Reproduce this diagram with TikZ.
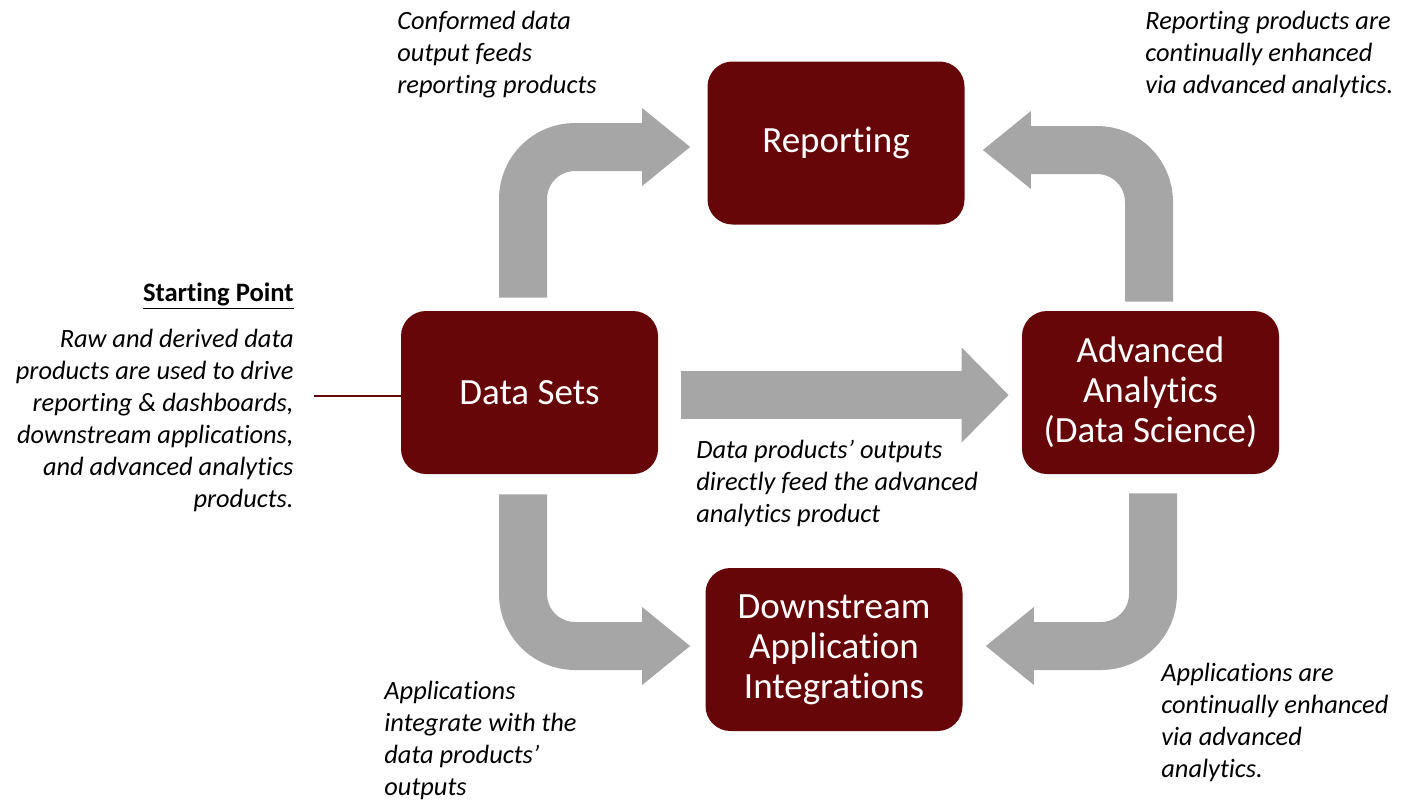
\documentclass[tikz,border=0pt]{standalone}
\usepackage{fontspec}
\setmainfont{Carlito}[Ligatures=NoCommon]
\usetikzlibrary{arrows.meta,calc}
\definecolor{boxred}{RGB}{102,6,8}
\definecolor{arrowgray}{RGB}{166,166,166}

\begin{document}
\begin{tikzpicture}[x=0.5pt,y=-0.5pt,
    box/.style={rectangle, rounded corners=12.5pt, fill=boxred, text=white,
      align=center, minimum width=128.5pt, minimum height=81.5pt,
      font=\fontsize{18.5}{20}\selectfont},
    note/.style={inner sep=0pt, font=\fontsize{13.2}{16}\selectfont\itshape},
    bentarrow/.style={draw=arrowgray, line width=24pt, rounded corners=26pt,
      -{Triangle[length=24pt,width=39pt,line width=0pt]}},
    flatarrow/.style={draw=arrowgray, line width=24pt,
      -{Triangle[length=23.5pt,width=47.5pt,line width=0pt]}}]

  \useasboundingbox (0,0) rectangle (1417,800);

  % Define the four boxes
  \node[box] (rep) at (836,143) {Reporting};
  \node[box] (ds) at (529.5,392.5) {Data Sets};
  \node[box] (aa) at (1150.5,392.5) {Advanced\\Analytics\\(Data Science)};
  \node[box] (dn) at (834,649.5) {Downstream\\Application\\Integrations};

  % Bent arrows round the loop
  \draw[bentarrow] ([xshift=-3.25pt,yshift=6.5pt]ds.north) |- ([xshift=-8.5pt,yshift=-2pt]rep.west);
  \draw[bentarrow] ([xshift=-0.75pt,yshift=4.5pt]aa.north) |- ([xshift=9pt,yshift=-3.5pt]rep.east);
  \draw[bentarrow] ([xshift=-3.25pt,yshift=-10pt]ds.south) |- ([xshift=-7.5pt,yshift=1.75pt]dn.west);
  \draw[bentarrow] ([xshift=1.25pt,yshift=-9.5pt]aa.south) |- ([xshift=11.5pt,yshift=1.75pt]dn.east);

  % Straight arrow across the middle
  \draw[flatarrow] ([xshift=11.5pt,yshift=-1.25pt]ds.east) -- ([xshift=-6.5pt,yshift=-1.25pt]aa.west);

  % Notes beside the arrows
  \node[note, anchor=north west, align=left] (conf) at (397,11)
    {Conformed data\\output feeds\\reporting products};
  \node[note, anchor=north west, align=left] (enh) at (1145,11)
    {Reporting products are\\continually enhanced\\via advanced analytics.};
  \node[note, anchor=north west, align=left] (feed) at (696,440)
    {Data products’ outputs\\directly feed the advanced\\analytics product};
  \node[note, anchor=north west, align=left] (integ) at (384,681)
    {Applications\\integrate with the\\data products’\\outputs};
  \node[note, anchor=north west, align=left] (apps) at (1161,663)
    {Applications are\\continually enhanced\\via advanced\\analytics.};

  % Starting point
  \node[note, font=\fontsize{13.3}{16}\selectfont\bfseries, anchor=north east] (sp) at (294,282)
    {\underline{Starting Point}};
  \node[note, anchor=north east, align=right] (raw) at (294,329)
    {Raw and derived data\\products are used to drive\\reporting \& dashboards,\\downstream applications,\\and advanced analytics\\products.};
  \coordinate (lead) at (314,396);
  \draw[boxred, line width=1pt] (lead) -- (lead -| ds.west);
\end{tikzpicture}
\end{document}
